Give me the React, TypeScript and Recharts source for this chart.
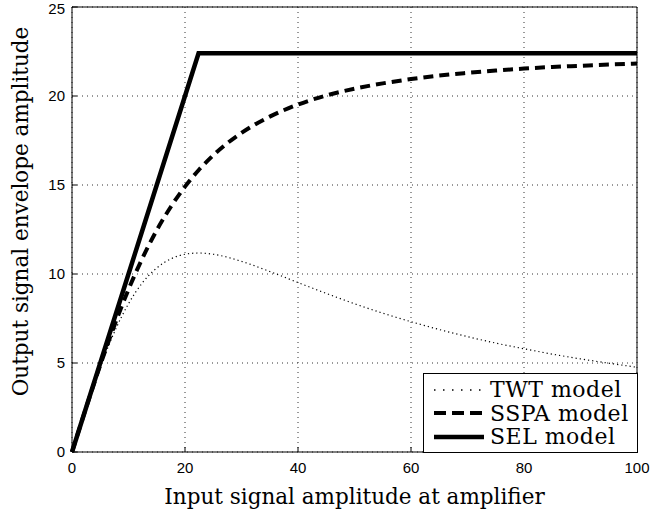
import { LineChart, Line, XAxis, YAxis, CartesianGrid, ReferenceLine } from 'recharts'

const inputAmp = [0, 2.5, 5, 7.5, 10, 12.5, 15, 17.5, 20, 22.4, 25, 30, 35, 40, 45, 50, 55, 60, 65, 70, 75, 80, 85, 90, 95, 100]
const twtOut = [0, 2.47, 4.76, 6.74, 8.33, 9.52, 10.34, 10.85, 11.11, 11.18, 11.11, 10.71, 10.14, 9.52, 8.91, 8.33, 7.8, 7.32, 6.88, 6.48, 6.12, 5.8, 5.5, 5.23, 4.99, 4.76]
const sspaOut = [0, 2.49, 4.88, 7.11, 9.13, 10.91, 12.46, 13.78, 14.91, 15.83, 16.67, 17.93, 18.84, 19.52, 20.03, 20.41, 20.71, 20.95, 21.15, 21.3, 21.43, 21.54, 21.63, 21.7, 21.77, 21.82]
const selOut = [0, 2.5, 5, 7.5, 10, 12.5, 15, 17.5, 20, 22.4, 22.4, 22.4, 22.4, 22.4, 22.4, 22.4, 22.4, 22.4, 22.4, 22.4, 22.4, 22.4, 22.4, 22.4, 22.4, 22.4]

const xTicks = [0, 20, 40, 60, 80, 100]
const yTicks = [0, 5, 10, 15, 20, 25]

const legendItems = [
  { name: 'TWT model', width: 1.5, dash: '1.5 7.5' },
  { name: 'SSPA model', width: 4, dash: '12 6' },
  { name: 'SEL model', width: 4.5, dash: undefined },
]

const data = inputAmp.map((x, i) => ({ x, twt: twtOut[i], sspa: sspaOut[i], sel: selOut[i] }))

const serif = '"DejaVu Serif", serif'
const sans = '"Liberation Sans", Arial, sans-serif'

function LegendBox() {
  return (
    <div style={{ position: 'absolute', left: 423, top: 373, border: '1.5px solid #000', background: '#fff', width: 215, height: 80, boxSizing: 'border-box', padding: '4px 0 0 9px' }}>
      {legendItems.map((it) => (
        <div key={it.name} style={{ display: 'flex', alignItems: 'center', height: 23.5 }}>
          <svg width={52} height={12}>
            <line x1={1} y1={6} x2={51} y2={6} stroke="#000" strokeWidth={it.width} strokeDasharray={it.dash} />
          </svg>
          <span style={{ fontFamily: serif, fontSize: 22, letterSpacing: 0.5, marginLeft: 5, lineHeight: '23px' }}>{it.name}</span>
        </div>
      ))}
    </div>
  )
}

export default function App() {
  return (
    <div style={{ position: 'relative', width: 650, height: 511, background: '#fff' }}>
      <style>{`body{margin:0}`}</style>
      <LineChart width={650} height={511} data={data} margin={{ top: 7, right: 13, bottom: 4, left: 22 }}>
        <CartesianGrid stroke="#333" strokeDasharray="1 4" horizontalValues={yTicks} verticalValues={xTicks} />
        <XAxis
          dataKey="x"
          type="number"
          domain={[0, 100]}
          ticks={xTicks}
          height={55}
          tickSize={-5}
          tickMargin={15}
          stroke="#000"
          tick={{ fill: '#000', fontSize: 15, fontFamily: sans }}
          label={{ value: 'Input signal amplitude at amplifier', position: 'insideBottom', offset: 3, fill: '#000', fontSize: 21.5, fontFamily: serif }}
        />
        <YAxis
          type="number"
          domain={[0, 25]}
          ticks={yTicks}
          width={50}
          tickSize={-5}
          tickMargin={12}
          stroke="#000"
          tick={{ fill: '#000', fontSize: 15, fontFamily: sans }}
          label={{ value: 'Output signal envelope amplitude', angle: -90, position: 'insideLeft', offset: -2, dy: -18, fill: '#000', fontSize: 21.5, fontFamily: serif, style: { textAnchor: 'middle' } }}
        />
        <ReferenceLine y={25} stroke="#000" strokeWidth={1} />
        <ReferenceLine x={100} stroke="#000" strokeWidth={1} />
        <Line type="monotone" dataKey="twt" stroke="#000" strokeWidth={1.2} strokeDasharray="1.2 3" dot={false} isAnimationActive={false} />
        <Line type="monotone" dataKey="sspa" stroke="#000" strokeWidth={4} strokeDasharray="10 6" dot={false} isAnimationActive={false} />
        <Line type="linear" dataKey="sel" stroke="#000" strokeWidth={4.5} dot={false} isAnimationActive={false} />
      </LineChart>
      <LegendBox />
    </div>
  )
}
